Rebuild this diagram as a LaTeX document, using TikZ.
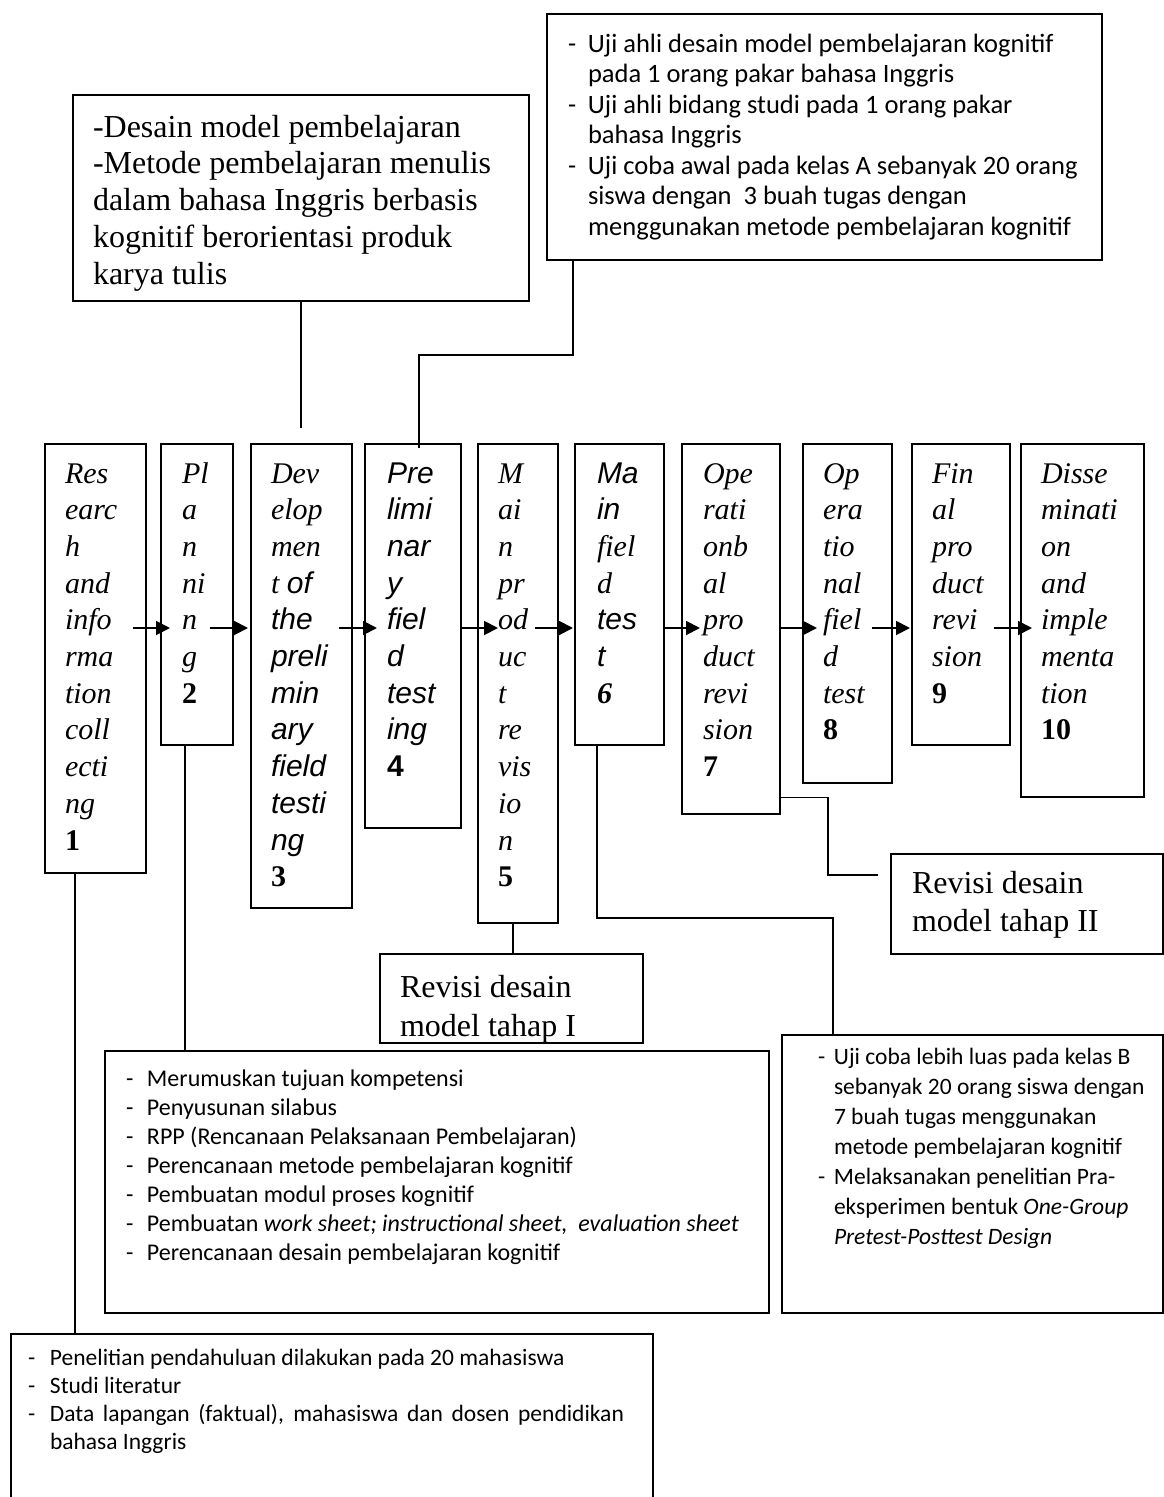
\documentclass[tikz,border=0pt]{standalone}
\usepackage{fontspec}
\setmainfont{Liberation Serif}
\newfontfamily\arialf{Liberation Sans}
\newfontfamily\calibrif{Carlito}
\usetikzlibrary{arrows.meta,calc}
\newcommand{\vl}[2]{\vtop{\baselineskip=#1\lineskiplimit=-1000pt\lineskip=0pt\halign{##\hfil\cr#2\crcr}}}
\newcommand{\dsh}[2]{\makebox[#1][l]{-}#2}
\newcommand{\ind}[2]{\hspace*{#1}#2}
\tikzset{
  box/.style={draw, line width=1.7pt, anchor=north west, inner sep=0pt},
  txt/.style={anchor=base west, inner sep=0pt, outer sep=0pt},
  arr/.style={line width=1.9pt, -{Triangle[length=14pt,width=14pt]}},
  con/.style={line width=1.5pt},
  stage/.style={txt, font={\fontsize{30}{36.7}\selectfont\itshape}},
  serif/.style={txt, font={\fontsize{32}{37}\selectfont}},
}
\begin{document}
\begin{tikzpicture}[x=1pt,y=-1pt]
\useasboundingbox (0,0) rectangle (1163,1497);
\fill[white] (0,0) rectangle (1163,1497);
% stage boxes
\node[box, minimum width=101pt, minimum height=429pt] (b1) at (44,443) {};
\node[box, minimum width=72pt, minimum height=301pt] (b2) at (160,443) {};
\node[box, minimum width=101pt, minimum height=464pt] (b3) at (250,443) {};
\node[box, minimum width=96pt, minimum height=384pt] (b4) at (364,443) {};
\node[box, minimum width=80pt, minimum height=479pt] (b5) at (477,443) {};
\node[box, minimum width=89pt, minimum height=301pt] (b6) at (574,443) {};
\node[box, minimum width=98pt, minimum height=370pt] (b7) at (681,443) {};
\node[box, minimum width=89pt, minimum height=339pt] (b8) at (802,443) {};
\node[box, minimum width=98pt, minimum height=301pt] (b9) at (911,443) {};
\node[box, minimum width=123pt, minimum height=353pt] (b10) at (1020,443) {};
% stage texts
\node[stage] (t1) at (65,483) {\vl{36.7pt}{Res\cr earc\cr h\cr and\cr info\cr rma\cr tion\cr coll\cr ecti\cr ng\cr {\bfseries\upshape 1}}};
\node[stage] (t2) at (182,483) {\vl{36.7pt}{Pl\cr a\cr n\cr ni\cr n\cr g\cr {\bfseries\upshape 2}}};
\node[stage] (t3) at (271,483) {\vl{36.7pt}{Dev\cr elop\cr men\cr t {\arialf of}\cr {\arialf the}\cr {\arialf preli}\cr {\arialf min}\cr {\arialf ary}\cr {\arialf field}\cr {\arialf testi}\cr {\arialf ng}\cr {\bfseries\upshape 3}}};
\node[stage, font={\arialf\fontsize{30}{36.7}\selectfont\itshape}] (t4) at (387,483) {\vl{36.7pt}{Pre\cr limi\cr nar\cr y\cr fiel\cr d\cr test\cr ing\cr {\bfseries\upshape 4}}};
\node[stage] (t5) at (498,483) {\vl{36.7pt}{M\cr ai\cr n\cr pr\cr od\cr uc\cr t\cr re\cr vis\cr io\cr n\cr {\bfseries\upshape 5}}};
\node[stage] (t6) at (597,483) {\vl{36.7pt}{{\arialf Ma}\cr {\arialf in}\cr fiel\cr d\cr {\arialf tes}\cr {\arialf t}\cr {\bfseries 6}}};
\node[stage] (t7) at (703,483) {\vl{36.7pt}{Ope\cr rati\cr onb\cr al\cr pro\cr duct\cr revi\cr sion\cr {\bfseries\upshape 7}}};
\node[stage] (t8) at (823,483) {\vl{36.7pt}{Op\cr era\cr tio\cr nal\cr fiel\cr d\cr test\cr {\bfseries\upshape 8}}};
\node[stage] (t9) at (932,483) {\vl{36.7pt}{Fin\cr al\cr pro\cr duct\cr revi\cr sion\cr {\bfseries\upshape 9}}};
\node[stage] (t10) at (1041,483) {\vl{36.7pt}{Disse\cr minati\cr on\cr and\cr imple\cr menta\cr tion\cr {\bfseries\upshape 10}}};
% arrows
\coordinate (ay) at (0,628);
\draw[arr] ($(b1.east |- ay)+(-14,0)$) -- ($(b2.west |- ay)+(10,0)$);
\draw[arr] ($(b2.east |- ay)+(-24,0)$) -- ($(b3.west |- ay)+(-2,0)$);
\draw[arr] ($(b3.east |- ay)+(-14,0)$) -- ($(b4.west |- ay)+(13,0)$);
\draw[arr] ($(b4.east |- ay)+(-1,0)$) -- ($(b5.west |- ay)+(21,0)$);
\draw[arr] ($(b5.east |- ay)+(-24,0)$) -- ($(b6.west |- ay)+(-1,0)$);
\draw[arr] (b6.east |- ay) -- ($(b7.west |- ay)+(19,0)$);
\draw[arr] (b7.east |- ay) -- ($(b8.west |- ay)+(15,0)$);
\draw[arr] ($(b8.east |- ay)+(-21,0)$) -- ($(b9.west |- ay)+(-1,0)$);
\draw[arr] ($(b9.east |- ay)+(-17,0)$) -- ($(b10.west |- ay)+(12,0)$);
% top boxes
\node[box, minimum width=456pt, minimum height=206pt] (A) at (72,94) {};
\node[serif] (tA) at (93,137) {\vl{36.8pt}{-Desain model pembelajaran\cr -Metode pembelajaran menulis\cr dalam bahasa Inggris berbasis\cr kognitif berorientasi produk\cr karya tulis}};
\node[box, minimum width=555pt, minimum height=246pt] (B) at (546,13) {};
\node[txt, font={\calibrif\fontsize{26.5}{30.5}\selectfont}] (tB) at (568,52) {\vl{30.5pt}{\dsh{20pt}{Uji ahli desain model pembelajaran kognitif}\cr \ind{20pt}{pada 1 orang pakar bahasa Inggris}\cr \dsh{20pt}{Uji ahli bidang studi pada 1 orang pakar}\cr \ind{20pt}{bahasa Inggris}\cr \dsh{20pt}{Uji coba awal pada kelas A sebanyak 20 orang}\cr \ind{20pt}{siswa dengan \ 3 buah tugas dengan}\cr \ind{20pt}{menggunakan metode pembelajaran kognitif}}};
% revision boxes
\node[box, minimum width=272pt, minimum height=100pt] (R2) at (890,853) {};
\node[serif] (tR2) at (912,893) {\vl{38pt}{Revisi desain\cr model tahap II}};
\node[box, minimum width=263pt, minimum height=89pt] (R1) at (379,953) {};
\begin{scope}
\clip (R1.north west) rectangle (R1.south east);
\node[serif] (tR1) at (400,997) {\vl{39pt}{Revisi desain\cr model tahap I}};
\end{scope}
% bottom boxes
\node[box, minimum width=664pt, minimum height=262pt] (P) at (104,1050) {};
\node[txt, font={\calibrif\fontsize{24}{29}\selectfont}] (tP) at (126,1086) {\vl{29pt}{\dsh{21pt}{Merumuskan tujuan kompetensi}\cr \dsh{21pt}{Penyusunan silabus}\cr \dsh{21pt}{RPP (Rencanaan Pelaksanaan Pembelajaran)}\cr \dsh{21pt}{Perencanaan metode pembelajaran kognitif}\cr \dsh{21pt}{Pembuatan modul proses kognitif}\cr \dsh{21pt}{Pembuatan \textit{work sheet; instructional sheet, \ evaluation sheet}}\cr \dsh{21pt}{Perencanaan desain pembelajaran kognitif}}};
\node[box, minimum width=381pt, minimum height=278pt] (BR) at (781,1034) {};
\node[txt, font={\calibrif\fontsize{23.5}{30}\selectfont}] (tBR) at (818,1064) {\vl{30pt}{\dsh{16pt}{Uji coba lebih luas pada kelas B}\cr \ind{16pt}{sebanyak 20 orang siswa dengan}\cr \ind{16pt}{7 buah tugas menggunakan}\cr \ind{16pt}{metode pembelajaran kognitif}\cr \dsh{16pt}{Melaksanakan penelitian Pra-}\cr \ind{16pt}{eksperimen bentuk \textit{One-Group}}\cr \ind{16pt}{\textit{Pretest-Posttest Design}}}};
\node[box, minimum width=642pt, minimum height=180pt] (L1) at (10,1333) {};
\node[txt, font={\calibrif\fontsize{23.5}{28}\selectfont}] (tL1) at (28,1365) {\vl{28pt}{\dsh{22pt}{Penelitian pendahuluan dilakukan pada 20 mahasiswa}\cr \dsh{22pt}{Studi literatur}\cr \dsh{22pt}{\makebox[574pt][s]{Data lapangan (faktual), mahasiswa dan dosen pendidikan}}\cr \ind{22pt}{bahasa Inggris}}};
% connectors
\coordinate (gA) at (0,428);
\draw[con] (A.south) -- (A.south |- gA);
\coordinate (cB) at ($(B.south west)+(27,0)$);
\coordinate (kB) at (0,355);
\draw[con] (cB) -- (cB |- kB) -| ($(b4.north)+(6,5)$);
\coordinate (c1) at ($(b1.south west)+(31,0)$);
\draw[con] (c1) -- (c1 |- L1.north);
\coordinate (c2) at ($(b2.south west)+(25,0)$);
\draw[con] (c2) -- (c2 |- P.north);
\coordinate (c5) at ($(b5.south west)+(36,0)$);
\draw[con] (c5) -- (c5 |- R1.north);
\coordinate (c6) at ($(b6.south west)+(23,0)$);
\coordinate (k6) at (833,918);
\draw[con] (c6) |- (k6) -- (k6 |- BR.north);
\coordinate (c7) at ($(b7.south east)+(0,-17)$);
\coordinate (k7) at (828,875);
\draw[con] (c7) -| (k7) -- ($(R2.west |- k7)+(-12,0)$);
\end{tikzpicture}
\end{document}
